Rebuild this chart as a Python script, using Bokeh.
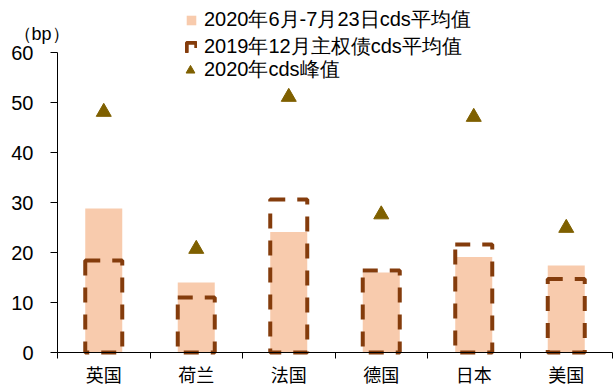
from bokeh.plotting import figure
from bokeh.models import (FixedTicker, Legend, LegendItem, Label,
                          ColumnDataSource, Range1d)
from bokeh.embed import file_html
from bokeh.resources import INLINE

# CDS levels by country (bp)
countries = ["英国", "荷兰", "法国", "德国", "日本", "美国"]
cds_avg_jun_jul_2020 = [28.8, 14.0, 24.1, 16.0, 19.1, 17.4]
sovereign_cds_dec_2019 = [18.4, 11.0, 30.6, 16.4, 21.6, 14.7]
cds_peak_2020 = [48.1, 20.7, 51.1, 27.6, 47.1, 24.9]
y_ticks = [0, 10, 20, 30, 40, 50, 60]

label_avg = "2020年6月-7月23日cds平均值"
label_sov = "2019年12月主权债cds平均值"
label_peak = "2020年cds峰值"

PINK = "#F8CBAD"
BROWN = "#843C0C"
OLIVE = "#7F6000"
LATIN = "Liberation Sans"
CJK = "Noto Sans CJK SC"

W, H = 613, 387
AX_LEFT, AX_RIGHT = 57, 612      # pixel extent of the category axis
AX_ZERO, AX_TOP = 352, 52        # pixel rows of 0 and 60 bp

n = len(countries)
xc = [i + 0.5 for i in range(n)]
src = ColumnDataSource(dict(x=xc, avg=cds_avg_jun_jul_2020,
                            sov=sovereign_cds_dec_2019, peak=cds_peak_2020))

# the frame fills the canvas; axes sit at fixed data locations
ppx = (AX_RIGHT - AX_LEFT) / n
ppy = (AX_ZERO - AX_TOP) / y_ticks[-1]
x_range = Range1d(-AX_LEFT / ppx, n + (W - AX_RIGHT) / ppx)
y_range = Range1d(-(H - AX_ZERO) / ppy, AX_ZERO / ppy)

p = figure(width=W, height=H, output_backend="svg", toolbar_location=None,
           title=None, x_range=x_range, y_range=y_range,
           min_border=0, min_border_left=0, min_border_right=0,
           min_border_top=0, min_border_bottom=0)
p.outline_line_color = None
p.xgrid.visible = False
p.ygrid.visible = False
p.background_fill_color = "white"
p.border_fill_color = "white"

avg_r = p.vbar(x="x", top="avg", width=0.4, source=src, fill_color=PINK,
               line_color=None)
sov_r = p.vbar(x="x", top="sov", width=0.4, source=src, fill_color=None,
               line_color=BROWN, line_width=4, line_dash="15 12")
peak_r = p.scatter(x="x", y="peak", source=src, marker="triangle", size=15,
                   fill_color=OLIVE, line_color=OLIVE)

# y axis
ya = p.yaxis[0]
ya.fixed_location = 0
ya.bounds = (y_ticks[0], y_ticks[-1])
ya.ticker = FixedTicker(ticks=y_ticks)
ya.minor_tick_line_color = None
ya.major_tick_out = 7
ya.major_tick_in = 0
ya.major_label_standoff = 17
ya.major_label_text_font = LATIN
ya.major_label_text_font_size = "20px"
ya.major_label_text_color = "black"
ya.axis_line_color = "black"
ya.major_tick_line_color = "black"

# x axis: names at category centres, tick marks at the boundaries
xa = p.xaxis[0]
xa.fixed_location = 0
xa.bounds = (0, n)
xa.ticker = FixedTicker(ticks=xc, minor_ticks=list(range(n + 1)))
xa.major_label_overrides = {x: name for x, name in zip(xc, countries)}
xa.major_tick_out = 0
xa.major_tick_in = 0
xa.minor_tick_out = 6
xa.minor_tick_in = 0
xa.minor_tick_line_color = "black"
xa.major_label_standoff = 2
xa.major_label_text_font = CJK
xa.major_label_text_font_size = "18px"
xa.major_label_text_color = "black"
xa.axis_line_color = "black"

# unit label
p.add_layout(Label(x=(13 - AX_LEFT) / ppx, y=(AX_ZERO - 33) / ppy,
                   text="（bp）", text_align="left", text_baseline="middle",
                   text_font=LATIN, text_font_size="18px", text_color="black"))

common = dict(border_line_color=None, background_fill_alpha=0,
              label_text_font=LATIN, label_text_font_size="20px",
              label_text_color="black", padding=0, margin=0,
              label_height=18, spacing=0, orientation="vertical")

leg_bars = Legend(items=[LegendItem(label=label_avg, renderers=[avg_r]),
                         LegendItem(label=label_sov, renderers=[sov_r])],
                  location=(185, 327), glyph_width=12, glyph_height=12,
                  label_standoff=7, **common)
leg_peak = Legend(items=[LegendItem(label=label_peak, renderers=[peak_r])],
                  location=(179, 304), glyph_width=22, glyph_height=22,
                  label_standoff=3, **common)
p.add_layout(leg_bars)
p.add_layout(leg_peak)

open("out.html", "w").write(file_html(p, INLINE))
